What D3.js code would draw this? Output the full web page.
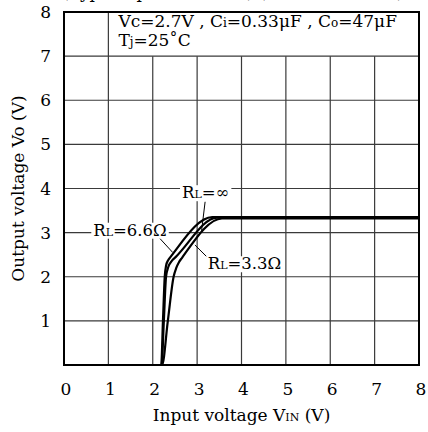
<!DOCTYPE html>
<html>
<head>
<meta charset="utf-8">
<script src="https://cdn.jsdelivr.net/npm/d3@7"></script>
<style>
  body { margin: 0; background: #fff; }
  text { font-family: "DejaVu Serif", "Liberation Serif", serif; fill: #000; }
</style>
</head>
<body>
<svg width="428" height="432"></svg>
<script>
/* tick values for both axes (volts) */
var xTicks = [0, 1, 2, 3, 4, 5, 6, 7, 8];
var yTicks = [1, 2, 3, 4, 5, 6, 7, 8];

/* output voltage vs input voltage [Vin, Vo] */
var curve66 = [[0, 0], [2.19, 0], [2.23, 1.0], [2.27, 2.0], [2.30, 2.25], [2.35, 2.38], [2.41, 2.46], [3.34, 3.35], [8, 3.35]];
var curveInf = [[0, 0], [2.20, 0], [2.25, 1.0], [2.30, 2.0], [2.35, 2.22], [2.43, 2.36], [2.52, 2.45], [3.45, 3.34], [8, 3.34]];
var curve33 = [[0, 0], [2.21, 0], [2.34, 1.0], [2.47, 2.0], [2.53, 2.2], [2.59, 2.33], [2.66, 2.43], [3.56, 3.32], [8, 3.32]];

var curveNames = ["RL=6.6Ω", "RL=∞", "RL=3.3Ω"];

var svgWidth = 428, svgHeight = 432;
var margin = {top: 12, right: 9, bottom: 67, left: 64};

var svg = d3.select("svg")
    .attr("width", svgWidth)
    .attr("height", svgHeight);

var x = d3.scaleLinear().domain([0, 8]).range([margin.left, svgWidth - margin.right]);
var y = d3.scaleLinear().domain([0, 8]).range([svgHeight - margin.bottom, margin.top]);

/* heading at the very top, cut by the page edge like in the original */
svg.append("text")
    .attr("x", 62).attr("y", -2)
    .attr("font-size", 17)
    .text("(Typical performance) (Reference data) ");

/* grid - vertical lines 2..7 stop under the condition box */
svg.append("g").selectAll("line")
    .data(xTicks.slice(1, 8))
    .enter().append("line")
    .attr("x1", function(d) { return x(d); })
    .attr("x2", function(d) { return x(d); })
    .attr("y1", y(0))
    .attr("y2", function(d) { return d == 1 ? y(8) : y(7); })
    .attr("stroke", "#3a3a3a")
    .attr("stroke-width", 1.2);

svg.append("g").selectAll("line")
    .data(yTicks.slice(0, 7))
    .enter().append("line")
    .attr("x1", x(0))
    .attr("x2", x(8))
    .attr("y1", function(d) { return y(d); })
    .attr("y2", function(d) { return y(d); })
    .attr("stroke", "#3a3a3a")
    .attr("stroke-width", 1.2);

/* plot frame */
svg.append("rect")
    .attr("x", x(0)).attr("y", y(8))
    .attr("width", x(8) - x(0)).attr("height", y(0) - y(8))
    .attr("fill", "none")
    .attr("stroke", "#000")
    .attr("stroke-width", 2);

/* the three curves */
var line = d3.line()
    .x(function(d) { return x(d[0]); })
    .y(function(d) { return y(d[1]); })
    .curve(d3.curveMonotoneX);

svg.append("g").selectAll("path")
    .data([curve66, curveInf, curve33])
    .enter().append("path")
    .attr("d", line)
    .attr("fill", "none")
    .attr("stroke", "#000")
    .attr("stroke-width", 2.2)
    .attr("stroke-linejoin", "round");

/* curve labels with leader lines (positions in volts) */
var notes = [
    {name: curveNames[0], tx: 0.66, ty: 2.93, from: [2.14, 2.89], to: [2.45, 2.55]},
    {name: curveNames[1], tx: 2.66, ty: 3.78, from: [3.18, 3.70], to: [3.10, 3.04]},
    {name: curveNames[2], tx: 3.24, ty: 2.17, from: [3.25, 2.42], to: [2.95, 2.72]}
];

svg.append("g").selectAll("line")
    .data(notes)
    .enter().append("line")
    .attr("x1", function(d) { return x(d.from[0]); })
    .attr("y1", function(d) { return y(d.from[1]); })
    .attr("x2", function(d) { return x(d.to[0]); })
    .attr("y2", function(d) { return y(d.to[1]); })
    .attr("stroke", "#000")
    .attr("stroke-width", 1);

var noteG = svg.append("g").selectAll("g")
    .data(notes)
    .enter().append("g");

var noteText = noteG.append("text")
    .attr("x", function(d) { return x(d.tx); })
    .attr("y", function(d) { return y(d.ty); })
    .attr("font-size", 16.5);

noteText.append("tspan").text("R");
noteText.append("tspan").attr("font-size", 11).text("L");
noteText.append("tspan").text(function(d) { return d.name.slice(2); });

// white box behind each label so grid lines stop at the text
noteG.each(function() {
    var g = d3.select(this);
    var b = g.select("text").node().getBBox();
    g.insert("rect", "text")
        .attr("x", b.x - 2).attr("y", b.y + 2)
        .attr("width", b.width + 4).attr("height", b.height - 3)
        .attr("fill", "#fff");
});

/* test condition box text */
var cond = svg.append("text")
    .attr("x", x(1) + 10).attr("y", 27)
    .attr("font-size", 17);
cond.append("tspan").text("Vc=2.7V , C");
cond.append("tspan").attr("font-size", 12).text("i");
cond.append("tspan").text("=0.33μF , C");
cond.append("tspan").attr("font-size", 12).text("o");
cond.append("tspan").text("=47μF");

var cond2 = svg.append("text")
    .attr("x", x(1) + 10).attr("y", 46)
    .attr("font-size", 17);
cond2.append("tspan").text("T");
cond2.append("tspan").attr("font-size", 12).text("j");
cond2.append("tspan").text("=25˚C");

/* tick labels */
svg.append("g").selectAll("text")
    .data(xTicks)
    .enter().append("text")
    .attr("x", function(d) { return x(d) + 2; })
    .attr("y", 395)
    .attr("text-anchor", "middle")
    .attr("font-size", 17)
    .text(function(d) { return d; });

svg.append("g").selectAll("text")
    .data(yTicks)
    .enter().append("text")
    .attr("x", 51)
    .attr("y", function(d) { return y(d) + 6; })
    .attr("text-anchor", "end")
    .attr("font-size", 17)
    .text(function(d) { return d; });

/* axis titles */
var xt = svg.append("text")
    .attr("x", (x(0) + x(8)) / 2)
    .attr("y", 421)
    .attr("text-anchor", "middle")
    .attr("font-size", 17);
xt.append("tspan").text("Input voltage V");
xt.append("tspan").attr("font-size", 11).text("IN");
xt.append("tspan").text(" (V)");

svg.append("text")
    .attr("transform", "translate(24," + (y(0) + y(8)) / 2 + ") rotate(-90)")
    .attr("text-anchor", "middle")
    .attr("font-size", 17)
    .text("Output voltage Vo (V)");
</script>
</body>
</html>
